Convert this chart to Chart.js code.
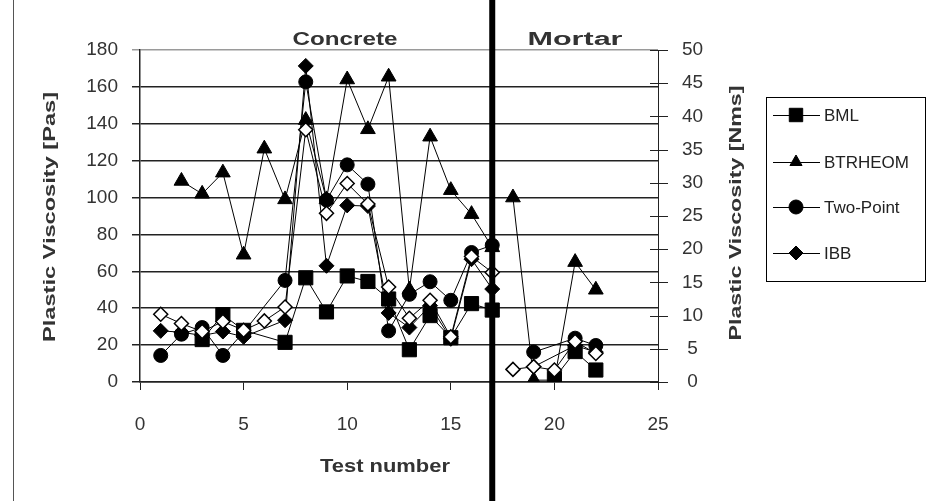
<!DOCTYPE html>
<html>
<head>
<meta charset="utf-8">
<script src="https://cdn.jsdelivr.net/npm/chart.js@4/dist/chart.umd.min.js"></script>
<style>
  html, body { margin: 0; padding: 0; background: #fff; }
  #wrap { position: relative; width: 935px; height: 501px; }
  canvas { display: block; }
</style>
</head>
<body>
<div id="wrap"><canvas id="c" width="935" height="501"></canvas></div>
<script>
// Test numbers 1..17 are concrete mixes, 18..22 are mortars
const testNumbers = [1, 2, 3, 4, 5, 6, 7, 8, 9, 10, 11, 12, 13, 14, 15, 16, 17, 18, 19, 20, 21, 22];
const mortarStart = 18;

// Plastic viscosity, Pa.s (left axis)
const bmlPas      = [null, null, 23, 36.5, 28, null, 21.5, 56.5, 38, 57.5, 54.5, 45, 17.5, 36, 24, 42.5, 39, null, null, 2, 16.5, 6.5];
const btrheomPas  = [null, 109, 102, 113.5, 69, 126.5, 99, 142, 99, 164, 137, 165.5, 50, 133, 104, 91, 73, 100, 1, 1, 65, 50];
// Plastic viscosity, N.m.s (right axis)
const twoPointNms = [4, 7.2, 8.2, 4, 7.5, null, 15.3, 45.2, 27.4, 32.7, 29.8, 7.7, 13.2, 15.1, 12.3, 19.5, 20.6, null, 4.5, null, 6.6, 5.5];
const ibbNms      = [7.7, 7.5, 7, 7.6, 6.8, null, 9.3, 47.6, 17.5, 26.6, 26.5, 10.4, 8.2, 11.5, 6.5, 18.5, 14, null, 2.3, null, 5.5, 4.5];
const ibbOpenNms  = [10.2, 8.8, 7.6, 9.1, 7.8, 9.2, 11.3, 38, 25.4, 29.9, 26.8, 14.3, 9.6, 12.3, 6.8, 18.9, 16.5, 1.9, 2.3, 1.8, 6.1, 4.3];

const leftTicks  = { min: 0, max: 180, step: 20 };
const rightTicks = { min: 0, max: 50, step: 5 };
const xTicks     = { min: 0, max: 25, step: 5 };

const series = [
  { label: 'BML',       values: bmlPas,      axis: 'y',  style: 'rect',     radius: 10,  fill: '#000', legend: true,  order: 4 },
  { label: 'BTRHEOM',   values: btrheomPas,  axis: 'y',  style: 'triangle', radius: 8.5, fill: '#000', legend: true,  order: 3 },
  { label: 'Two-Point', values: twoPointNms, axis: 'y1', style: 'circle',   radius: 7,   fill: '#000', legend: true,  order: 2 },
  { label: 'IBB',       values: ibbNms,      axis: 'y1', style: 'rectRot',  radius: 7.5, fill: '#000', legend: true,  order: 1 },
  { label: 'IBB (open)',values: ibbOpenNms,  axis: 'y1', style: 'rectRot',  radius: 7,   fill: '#fff', legend: false, order: 0 }
];

function segment(values, mortar) {
  return testNumbers
    .map((t, i) => ({ x: t, y: values[i] }))
    .filter(p => mortar ? p.x >= mortarStart : p.x < mortarStart);
}

const datasets = [];
series.forEach(s => {
  [false, true].forEach(mortar => {
    datasets.push({
      label: s.label,
      data: segment(s.values, mortar),
      yAxisID: s.axis,
      showLegend: s.legend && !mortar,
      markerStyle: s.style,
      markerFill: s.fill,
      borderColor: '#000',
      borderWidth: 1,
      pointStyle: s.style,
      pointRadius: s.radius,
      pointHoverRadius: s.radius,
      pointBackgroundColor: s.fill,
      pointBorderColor: '#000',
      pointBorderWidth: s.fill === '#fff' ? 1.5 : 1,
      fill: false,
      tension: 0,
      spanGaps: true,
      order: s.order
    });
  });
});

const tickFont = { family: '"Liberation Sans", Arial, sans-serif', size: 19 };
const inkDark = '#222';
const textGrey = '#333';

function fitText(ctx, text, cx, cy, width, font, rotate) {
  ctx.save();
  ctx.font = font;
  const w = ctx.measureText(text).width;
  ctx.translate(cx, cy);
  if (rotate) ctx.rotate(-Math.PI / 2);
  ctx.scale(width / w, 1);
  ctx.textAlign = 'center';
  ctx.textBaseline = 'middle';
  ctx.fillText(text, 0, 0);
  ctx.restore();
}

function drawMarker(ctx, style, x, y, r, fill) {
  ctx.save();
  ctx.fillStyle = fill;
  ctx.strokeStyle = '#000';
  ctx.lineWidth = 1;
  ctx.beginPath();
  if (style === 'rect') {
    const h = r * Math.SQRT1_2;
    ctx.rect(x - h, y - h, 2 * h, 2 * h);
  } else if (style === 'triangle') {
    ctx.moveTo(x, y - r);
    ctx.lineTo(x + r * 0.866, y + r * 0.5);
    ctx.lineTo(x - r * 0.866, y + r * 0.5);
    ctx.closePath();
  } else if (style === 'circle') {
    ctx.arc(x, y, r, 0, Math.PI * 2);
  } else {
    ctx.moveTo(x, y - r);
    ctx.lineTo(x + r, y);
    ctx.lineTo(x, y + r);
    ctx.lineTo(x - r, y);
    ctx.closePath();
  }
  ctx.fill();
  ctx.stroke();
  ctx.restore();
}

const decorations = {
  id: 'decorations',
  afterDatasetsDraw(chart) {
    const ctx = chart.ctx;
    const xs = chart.scales.x;
    // thick divider between concrete and mortar tests
    const xd = xs.getPixelForValue(17);
    ctx.save();
    ctx.fillStyle = '#000';
    ctx.fillRect(xd - 3, 0, 6, chart.height);
    ctx.restore();
  },
  afterDraw(chart) {
    const ctx = chart.ctx;
    const area = chart.chartArea;
    const y1 = chart.scales.y1;

    // tick marks crossing the right axis
    ctx.save();
    ctx.strokeStyle = inkDark;
    ctx.lineWidth = 1;
    for (let v = rightTicks.min; v <= rightTicks.max; v += rightTicks.step) {
      const py = Math.round(y1.getPixelForValue(v)) + 0.5;
      ctx.beginPath();
      ctx.moveTo(area.right - 8, py);
      ctx.lineTo(area.right + 10, py);
      ctx.stroke();
    }
    ctx.restore();

    // axis titles and section labels
    ctx.fillStyle = textGrey;
    const bold = 'bold 17px "Liberation Sans"';
    fitText(ctx, 'Plastic Viscosity [Pas]', 50, 217, 250, bold, true);
    fitText(ctx, 'Plastic Viscosity [Nms]', 736, 213, 255, bold, true);
    fitText(ctx, 'Test number', 385, 467, 130, 'bold 19px "Liberation Sans"', false);
    fitText(ctx, 'Concrete', 345, 40, 105, 'bold 18px "Liberation Sans"', false);
    fitText(ctx, 'Mortar', 575, 40, 95, 'bold 18px "Liberation Sans"', false);

    // legend
    ctx.save();
    ctx.strokeStyle = '#000';
    ctx.lineWidth = 1;
    ctx.strokeRect(766.5, 97.5, 159, 184);
    const rows = [115, 162, 207, 253];
    const items = chart.data.datasets.filter(d => d.showLegend);
    items.forEach((d, i) => {
      const y = rows[i];
      ctx.beginPath();
      ctx.moveTo(773, y + 0.5);
      ctx.lineTo(820, y + 0.5);
      ctx.stroke();
      drawMarker(ctx, d.markerStyle, 796, y, d.markerStyle === 'rect' ? 9.5 : 7, d.markerFill);
      ctx.fillStyle = inkDark;
      ctx.font = '17px "Liberation Sans"';
      ctx.textAlign = 'left';
      ctx.textBaseline = 'middle';
      ctx.fillText(d.label, 824, y + 1);
    });
    ctx.restore();

    // outer frame line
    ctx.save();
    ctx.strokeStyle = '#555';
    ctx.lineWidth = 1;
    ctx.beginPath();
    ctx.moveTo(13.5, 0);
    ctx.lineTo(13.5, chart.height);
    ctx.stroke();
    ctx.restore();
  }
};

new Chart(document.getElementById('c'), {
  type: 'line',
  data: { datasets },
  options: {
    responsive: false,
    animation: false,
    layout: { padding: { top: 50, left: 0, right: 0, bottom: 0 } },
    plugins: { legend: { display: false }, tooltip: { enabled: false } },
    scales: {
      x: {
        type: 'linear',
        min: xTicks.min, max: xTicks.max,
        ticks: { stepSize: xTicks.step, font: tickFont, color: textGrey, padding: 23, maxRotation: 0 },
        grid: { display: true, drawOnChartArea: false, drawTicks: true, tickLength: 8, color: inkDark, lineWidth: 1 },
        border: { display: true, color: inkDark, width: 1.5 },
        afterFit(s) { s.height = 119; }
      },
      y: {
        position: 'left',
        min: leftTicks.min, max: leftTicks.max,
        ticks: { stepSize: leftTicks.step, font: tickFont, color: textGrey, padding: 14 },
        grid: {
          color: ctx => (ctx.tick && ctx.tick.value === leftTicks.max) ? '#9a9a9a' : inkDark,
          lineWidth: 1.5, tickLength: 8
        },
        border: { display: true, color: inkDark, width: 1.5 },
        afterFit(s) { s.width = 140; }
      },
      y1: {
        position: 'right',
        min: rightTicks.min, max: rightTicks.max,
        ticks: { stepSize: rightTicks.step, font: tickFont, color: textGrey, padding: 24, crossAlign: 'center' },
        grid: { display: false, drawTicks: false },
        border: { display: true, color: inkDark, width: 1 },
        afterFit(s) { s.width = 277; }
      }
    }
  },
  plugins: [decorations]
});
</script>
</body>
</html>
